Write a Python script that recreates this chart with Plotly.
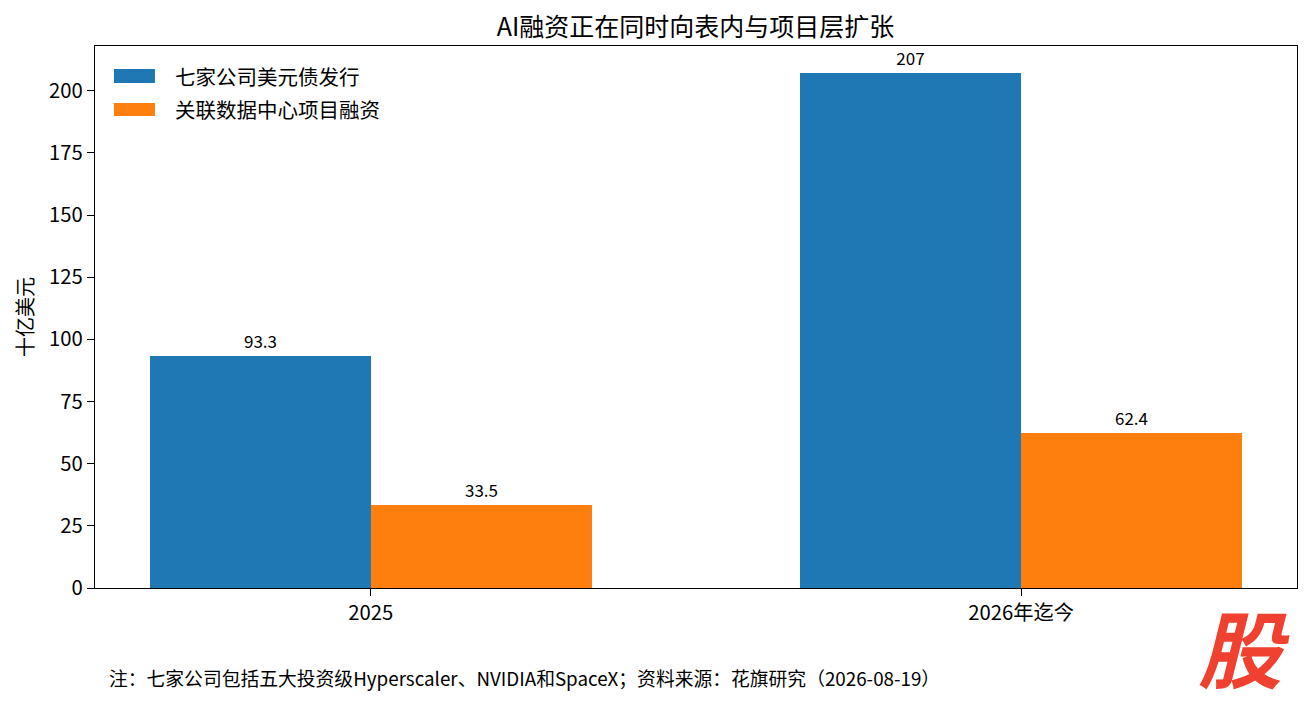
import plotly.graph_objects as go

FONT = "Noto Sans CJK SC"

categories = ["2025", "2026年迄今"]
series_names = ["七家公司美元债发行", "关联数据中心项目融资"]
bond_issuance = [93.3, 207]
project_finance = [33.5, 62.4]
colors = ["#1f77b4", "#ff7f0e"]
y_ticks = [0, 25, 50, 75, 100, 125, 150, 175, 200]

title_text = "AI融资正在同时向表内与项目层扩张"
y_title = "十亿美元"
note_text = "注：七家公司包括五大投资级Hyperscaler、NVIDIA和SpaceX；资料来源：花旗研究（2026-08-19）"

bar_width = 0.34
positions = list(range(len(categories)))

# page body adds an 8px margin, so the figure is a bit smaller than the window
fig = go.Figure()
for name, values, color, offset in zip(
    series_names, [bond_issuance, project_finance], colors, [-bar_width, 0.0]
):
    fig.add_trace(
        go.Bar(
            x=positions,
            y=values,
            name=name,
            width=bar_width,
            offset=offset,
            marker={"color": color, "line": {"width": 0}},
            text=[f"{v:g}" for v in values],
            textposition="outside",
            textfont={"family": FONT, "size": 17, "color": "#000000"},
            cliponaxis=False,
            showlegend=False,
        )
    )

# legend drawn by hand to get matplotlib-style wide swatches
legend_rows = [(0.9317, 0.9576, 0.9446), (0.8708, 0.8948, 0.8838)]
for (y0, y1, yc), name, color in zip(legend_rows, series_names, colors):
    fig.add_shape(
        type="rect",
        xref="paper",
        yref="paper",
        x0=0.0158,
        x1=0.0499,
        y0=y0,
        y1=y1,
        fillcolor=color,
        line={"width": 0},
    )
    fig.add_annotation(
        text=name,
        xref="paper",
        yref="paper",
        x=0.0649,
        y=yc,
        xanchor="left",
        yanchor="middle",
        showarrow=False,
        font={"size": 20.5},
    )

axis_style = {
    "ticks": "outside",
    "ticklen": 7,
    "tickwidth": 1.2,
    "tickcolor": "#000000",
    "showline": True,
    "linecolor": "#000000",
    "linewidth": 1.2,
    "mirror": True,
    "showgrid": False,
    "zeroline": False,
    "tickfont": {"size": 20.3},
}

fig.update_layout(
    width=1302,
    height=697,
    margin={"l": 87, "r": 13, "t": 38, "b": 117},
    paper_bgcolor="white",
    plot_bgcolor="white",
    font={"family": FONT, "size": 19, "color": "#000000"},
    title={
        "text": title_text,
        "x": 0.528,
        "xanchor": "center",
        "y": 0.972,
        "yanchor": "middle",
        "font": {"size": 25},
    },
    bargap=0,
    barmode="overlay",
    xaxis={**axis_style, "range": [-0.424, 1.424], "tickvals": positions, "ticktext": categories},
    yaxis={
        **axis_style,
        "range": [0, 218],
        "tickvals": y_ticks,
        "title": {"text": y_title, "standoff": 10, "font": {"size": 20}},
    },
)

fig.add_annotation(
    text=note_text,
    xref="paper",
    yref="paper",
    x=0.0100,
    y=-0.166,
    xanchor="left",
    yanchor="middle",
    showarrow=False,
    font={"size": 18.8},
)

fig.add_annotation(
    text="<b><i>股</i></b>",
    xref="paper",
    yref="paper",
    x=0.956,
    y=-0.107,
    xanchor="center",
    yanchor="middle",
    showarrow=False,
    font={"size": 84, "color": "#ef4030", "family": FONT},
)

fig.write_html("out.html")
